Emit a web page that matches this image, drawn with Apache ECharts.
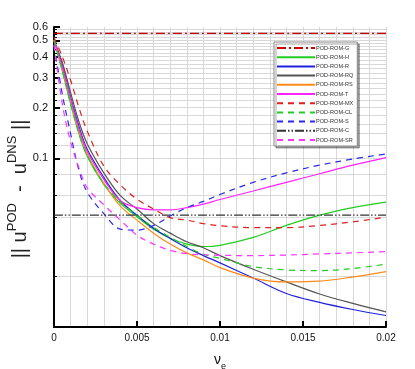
<!DOCTYPE html>
<html>
<head>
<meta charset="utf-8">
<script src="https://cdn.jsdelivr.net/npm/echarts@6/dist/echarts.min.js"></script>
<style>
html, body { margin: 0; padding: 0; background: #fff; }
#main { width: 415px; height: 369px; }
</style>
</head>
<body>
<div id="main"></div>
<script>
// x: nu_e
var nu = [0, 0.0005, 0.001, 0.0015, 0.002, 0.003, 0.004, 0.005, 0.006, 0.007, 0.008, 0.009, 0.01, 0.012, 0.014, 0.016, 0.018, 0.02];
var nuEnds = [0, 0.02];

// error norms
var romG  = [0.55, 0.55];
var romC  = [0.046, 0.046];
var romH  = [0.5, 0.33, 0.21, 0.14, 0.103, 0.070, 0.054, 0.045, 0.038, 0.0336, 0.031, 0.030, 0.0305, 0.034, 0.040, 0.046, 0.051, 0.055];
var romR  = [0.5, 0.36, 0.23, 0.155, 0.113, 0.077, 0.056, 0.046, 0.0385, 0.0335, 0.0295, 0.0265, 0.024, 0.0195, 0.0158, 0.014, 0.0127, 0.0117];
var romRQ = [0.5, 0.37, 0.245, 0.165, 0.122, 0.082, 0.060, 0.050, 0.041, 0.036, 0.032, 0.0295, 0.0265, 0.022, 0.0185, 0.0157, 0.0138, 0.0123];
var romRS = [0.5, 0.34, 0.22, 0.145, 0.106, 0.071, 0.052, 0.043, 0.036, 0.031, 0.0275, 0.025, 0.0225, 0.0195, 0.0185, 0.0187, 0.0198, 0.0213];
var romT  = [0.5, 0.35, 0.225, 0.15, 0.11, 0.075, 0.056, 0.051, 0.0495, 0.0495, 0.051, 0.0535, 0.057, 0.064, 0.072, 0.081, 0.091, 0.101];
var romMX = [0.52, 0.40, 0.29, 0.20, 0.145, 0.090, 0.0695, 0.0572, 0.050, 0.0445, 0.043, 0.041, 0.0398, 0.0388, 0.0388, 0.040, 0.042, 0.0448];
var romCL = [0.5, 0.33, 0.21, 0.14, 0.104, 0.071, 0.055, 0.046, 0.039, 0.034, 0.030, 0.027, 0.0255, 0.0228, 0.0218, 0.0216, 0.0222, 0.0236];
var romS  = [0.47, 0.24, 0.14, 0.085, 0.063, 0.047, 0.038, 0.0375, 0.040, 0.0455, 0.051, 0.0555, 0.061, 0.072, 0.082, 0.091, 0.099, 0.106];
var romSR = [0.47, 0.21, 0.125, 0.088, 0.067, 0.053, 0.043, 0.035, 0.031, 0.0285, 0.0272, 0.0268, 0.0266, 0.0265, 0.0267, 0.0271, 0.0275, 0.028];

// y axis ticks / grid
var yTicks = [0.1, 0.2, 0.3, 0.4, 0.5, 0.6];
var yGrid = [0.02, 0.045, 0.06, 0.08, 0.1, 0.12, 0.14, 0.16, 0.18, 0.2, 0.22, 0.24, 0.26, 0.28, 0.3, 0.32, 0.34, 0.36, 0.38,
             0.4, 0.42, 0.44, 0.46, 0.48, 0.5, 0.52, 0.54, 0.56, 0.58];

var yMin = 0.01, yMax = 0.6;
var dashed = [6, 5], dashDot = [9, 3, 2, 3], dashDotDot = [9, 2, 1.5, 2, 1.5, 2];

function mk(name, xs, ys, color, dash) {
    return {
        name: name,
        type: 'line',
        yAxisIndex: 0,
        data: xs.map(function (x, i) { return [x, ys[i]]; }),
        smooth: 0.35,
        symbol: 'none',
        lineStyle: { color: color, width: 1.2, type: dash || 'solid' },
        itemStyle: { color: color }
    };
}

var series = [
    mk('POD-ROM-G', nuEnds, romG, '#cc0000', dashDot),
    mk('POD-ROM-H', nu, romH, '#22cc22'),
    mk('POD-ROM-R', nu, romR, '#2020dd'),
    mk('POD-ROM-RQ', nu, romRQ, '#555555'),
    mk('POD-ROM-RS', nu, romRS, '#ff8a1a'),
    mk('POD-ROM-T', nu, romT, '#ff22ff'),
    mk('POD-ROM-MX', nu, romMX, '#dd2020', dashed),
    mk('POD-ROM-CL', nu, romCL, '#22cc22', dashed),
    mk('POD-ROM-S', nu, romS, '#2a2aee', dashed),
    mk('POD-ROM-C', nuEnds, romC, '#333333', dashDotDot),
    mk('POD-ROM-SR', nu, romSR, '#ff33ff', dashed)
];

var lg = function (v) { return Math.log10(v); };
var fontFam = 'Liberation Sans, Arial, sans-serif';

var myChart = echarts.init(document.getElementById('main'));
var option = {
    animation: false,
    backgroundColor: '#fff',
    textStyle: { fontFamily: fontFam },
    grid: { left: 54, right: 29, top: 27, bottom: 42, outerBoundsMode: 'none', containLabel: false },
    legend: {
        orient: 'vertical',
        left: 274,
        top: 42,
        itemWidth: 38,
        itemHeight: 6.5,
        itemGap: 3.2,
        padding: [3, 4, 3, 2],
        backgroundColor: '#fff',
        borderColor: '#888',
        borderWidth: 1,
        shadowColor: 'rgba(0,0,0,0.35)',
        shadowOffsetX: 2,
        shadowOffsetY: 2,
        itemStyle: { color: 'transparent', borderColor: 'transparent', borderWidth: 0, opacity: 0 },
        textStyle: { fontSize: 5.6, color: '#333', fontFamily: fontFam, padding: [0, 0, 0, -4] },
        data: series.map(function (s) { return s.name; })
    },
    xAxis: {
        type: 'value',
        min: 0,
        max: 0.02,
        interval: 0.005,
        name: '{a|\u03bd}{b|e}',
        nameLocation: 'middle',
        nameGap: 26,
        nameMoveOverlap: false,
        nameTextStyle: {
            rich: {
                a: { fontSize: 14, color: '#111', fontFamily: fontFam, lineHeight: 18, verticalAlign: 'top' },
                b: { fontSize: 9, color: '#111', fontFamily: fontFam, lineHeight: 18, verticalAlign: 'bottom' }
            }
        },
        axisLine: { onZero: false, lineStyle: { color: '#000', width: 2 } },
        axisTick: { inside: true, length: 6, lineStyle: { color: '#000', width: 2 } },
        axisLabel: { fontSize: 10, color: '#111', margin: 6 },
        minorTick: { show: false, splitNumber: 5 },
        splitLine: { show: true, lineStyle: { color: '#d8d8d8' } },
        minorSplitLine: { show: true, lineStyle: { color: '#d8d8d8' } }
    },
    yAxis: [
        {
            type: 'log',
            logBase: 10,
            min: yMin,
            max: yMax,
            show: false
        },
        {
            type: 'value',
            position: 'left',
            min: lg(yMin),
            max: lg(yMax),
            name: '{a||| u}{s|POD}{a|  -  u}{s|DNS}{a| ||}',
            nameLocation: 'middle',
            nameRotate: 90,
            nameGap: 24,
            nameMoveOverlap: false,
            nameTextStyle: {
                padding: [0, 24, 0, 0],
                rich: {
                    a: { fontSize: 20, color: '#222', fontFamily: fontFam, lineHeight: 24, verticalAlign: 'bottom' },
                    s: { fontSize: 13, color: '#222', fontFamily: fontFam, lineHeight: 24, verticalAlign: 'top' }
                }
            },
            axisLine: { show: true, lineStyle: { color: '#000', width: 2 } },
            axisTick: { show: true, inside: true, length: 6, lineStyle: { color: '#000', width: 2 }, customValues: yTicks.map(lg) },
            axisLabel: {
                fontSize: 11, color: '#111', margin: 6,
                customValues: yTicks.map(lg),
                formatter: function (v) { return String(+Math.pow(10, v).toFixed(2)); }
            },
            splitLine: { show: false }
        },
        {
            type: 'value',
            position: 'left',
            min: lg(yMin),
            max: lg(yMax),
            axisLine: { show: false },
            axisTick: { show: true, inside: true, length: 3, lineStyle: { color: '#000' }, customValues: yGrid.map(lg) },
            axisLabel: { show: false },
            splitLine: { show: true, lineStyle: { color: '#d8d8d8' } }
        }
    ],
    series: series
};
myChart.setOption(option);
</script>
</body>
</html>
